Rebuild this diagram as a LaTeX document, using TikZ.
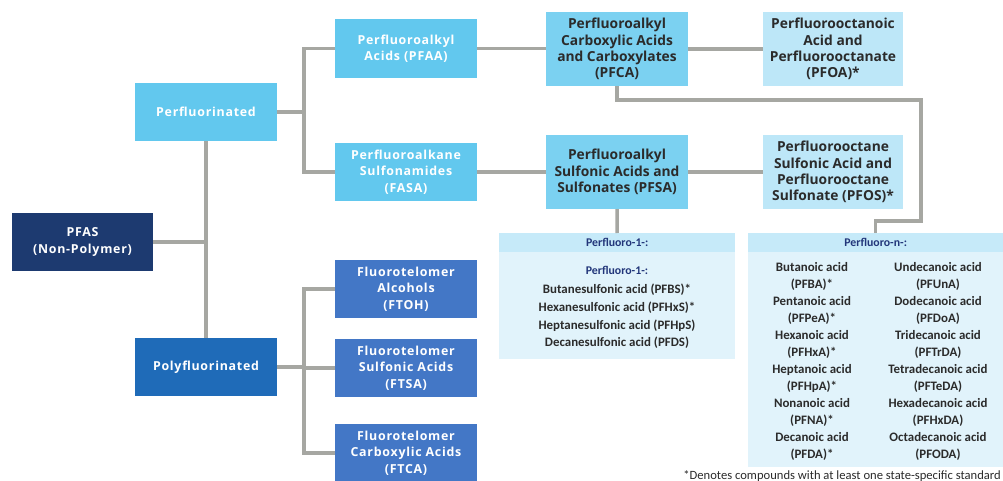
\documentclass[tikz,border=0pt]{standalone}
\usepackage{fontspec}
\setmainfont{Carlito}
\newfontfamily\boxfont{Open Sans}
\newfontfamily\wboxfont[LetterSpace=6]{Open Sans}
\definecolor{lineg}{HTML}{A6A7A2}
\definecolor{cyanA}{HTML}{62C8EE}
\definecolor{cyanB}{HTML}{7BD1F1}
\definecolor{cyanC}{HTML}{BDE7F8}
\definecolor{navyA}{HTML}{1D3A70}
\definecolor{blueA}{HTML}{1F6BB8}
\definecolor{blueB}{HTML}{4377C6}
\definecolor{hdrc}{HTML}{C6EAF9}
\definecolor{bodyc}{HTML}{E1F3FB}
\definecolor{navyt}{HTML}{22367A}
\definecolor{darkt}{HTML}{2B2B2B}
\begin{document}
\begin{tikzpicture}[x=1pt,y=-1pt,
  basebox/.style={inner sep=0pt, align=center, minimum width=142pt},
  whitebox/.style={basebox, minimum height=58pt, text=white, font=\wboxfont\bfseries\fontsize{12.4}{16.5}\selectfont},
  darkbox/.style={basebox, minimum height=74pt, text=darkt, font=\boxfont\bfseries\fontsize{13.8}{16.3}\selectfont},
  conn/.style={draw=lineg, line width=3.5pt},
  listtxt/.style={inner sep=0pt, align=center, text=darkt, font=\bfseries\fontsize{12.9}{17.7}\selectfont},
  pntxt/.style={inner sep=0pt, align=center, text=darkt, font=\bfseries\fontsize{12.9}{17}\selectfont},
  hdrtxt/.style={inner sep=0pt, text=navyt, font=\bfseries\fontsize{11.8}{14}\selectfont}
]
\useasboundingbox[fill=white] (0,0) rectangle (1003,481);

\coordinate (b1) at (304,112);
\coordinate (b2) at (304,367);
\coordinate (c1) at (921,221);

% boxes
\node[whitebox, fill=cyanA] (perfl) at (206,112) {Perfluorinated};
\node[whitebox, fill=cyanA, minimum height=59pt] (pfaa) at (406,48.5) {Perfluoroalkyl\\Acids (PFAA)};
\node[whitebox, fill=cyanA] (fasa) at (406,172) {Perfluoroalkane\\Sulfonamides\\(FASA)};
\node[whitebox, fill=navyA, minimum width=141pt] (pfas) at (82.5,242) {PFAS\\(Non-Polymer)};
\node[whitebox, fill=blueA] (poly) at (206,367) {Polyfluorinated};
\node[whitebox, fill=blueB] (ftoh) at (406,289) {Fluorotelomer\\Alcohols\\(FTOH)};
\node[whitebox, fill=blueB] (ftsa) at (406,368) {Fluorotelomer\\Sulfonic Acids\\(FTSA)};
\node[whitebox, fill=blueB] (ftca) at (406,453) {Fluorotelomer\\Carboxylic Acids\\(FTCA)};
\node[darkbox, fill=cyanB] (pfca) at (617,49) {Perfluoroalkyl\\Carboxylic Acids\\and Carboxylates\\(PFCA)};
\node[darkbox, fill=cyanC, minimum width=140pt] (pfoa) at (833,49) {Perfluorooctanoic\\Acid and\\Perfluorooctanate\\(PFOA)*};
\node[darkbox, fill=cyanB] (pfsa) at (617,172) {Perfluoroalkyl\\Sulfonic Acids and\\Sulfonates (PFSA)};
\node[darkbox, fill=cyanC, minimum width=140pt] (pfos) at (833,172) {Perfluorooctane\\Sulfonic Acid and\\Perfluorooctane\\Sulfonate (PFOS)*};

% Perfluoro-1 panel
\node[inner sep=0pt, fill=bodyc, minimum width=236pt, minimum height=126pt, anchor=north west] (p1) at (499,233) {};
\node[inner sep=0pt, fill=hdrc, minimum width=236pt, minimum height=19pt, anchor=north west] (p1h) at (499,233) {};
\node[hdrtxt] (p1ht) at (p1h.center) {Perfluoro-1-:};
\node[hdrtxt] (p1title) at (617,270) {Perfluoro-1-:};
\node[listtxt] (p1list) at (617,316.5) {Butanesulfonic acid (PFBS)*\\Hexanesulfonic acid (PFHxS)*\\Heptanesulfonic acid (PFHpS)\\Decanesulfonic acid (PFDS)};

% Perfluoro-n panel
\node[inner sep=0pt, fill=bodyc, minimum width=255pt, minimum height=234pt, anchor=north west] (pn) at (748,233) {};
\node[inner sep=0pt, fill=hdrc, minimum width=255pt, minimum height=19pt, anchor=north west] (pnh) at (748,233) {};
\node[hdrtxt] (pnht) at (pnh.center) {Perfluoro-n-:};
\node[pntxt] (pncol1) at (812,361.5) {Butanoic acid\\(PFBA)*\\Pentanoic acid\\(PFPeA)*\\Hexanoic acid\\(PFHxA)*\\Heptanoic acid\\(PFHpA)*\\Nonanoic acid\\(PFNA)*\\Decanoic acid\\(PFDA)*};
\node[pntxt] (pncol2) at (938,361.5) {Undecanoic acid\\(PFUnA)\\Dodecanoic acid\\(PFDoA)\\Tridecanoic acid\\(PFTrDA)\\Tetradecanoic acid\\(PFTeDA)\\Hexadecanoic acid\\(PFHxDA)\\Octadecanoic acid\\(PFODA)};

\node[inner sep=0pt, anchor=east, text=darkt, font=\fontsize{12.6}{15}\selectfont] (foot) at (1001,476) {*Denotes compounds with at least one state-specific standard};

% connectors
\draw[conn] (perfl.east) -- (b1);
\draw[conn] (pfaa.west) -| (b1);
\draw[conn] (fasa.west) -| (b1);
\draw[conn] (perfl.south) -- (poly.north);
\draw[conn] (pfas.east) -- (pfas.east -| perfl.south);
\draw[conn] (poly.east) -- (b2);
\draw[conn] (ftoh.west) -| (b2);
\draw[conn] (ftsa.west) -- (ftsa.west -| b2);
\draw[conn] (ftca.west) -| (b2);
\draw[conn] (pfaa.east) -- (pfaa.east -| pfca.west);
\draw[conn] (pfca.east) -- (pfoa.west);
\draw[conn] (fasa.east) -- (pfsa.west);
\draw[conn] (pfsa.east) -- (pfos.west);
\draw[conn] (pfsa.south) -- (p1.north);
\draw[conn] (pfca.south) -- ++(0,14) -| (c1) -| (pnh.north);
\end{tikzpicture}
\end{document}
